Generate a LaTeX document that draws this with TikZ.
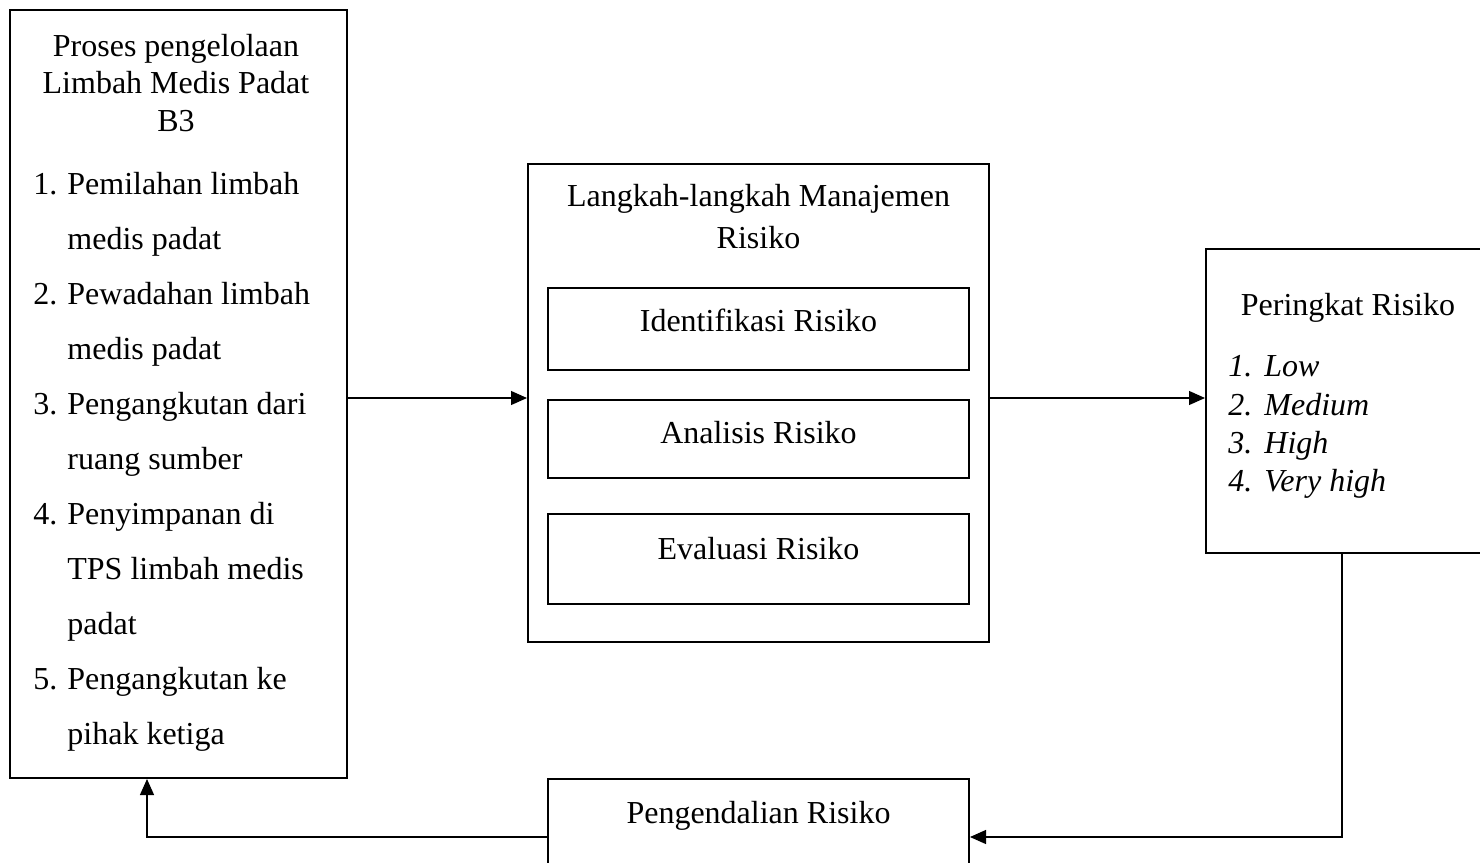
\documentclass[tikz,border=0pt]{standalone}
\usepackage{fontspec}
\setmainfont{Liberation Serif}
\usetikzlibrary{arrows.meta, calc, positioning}

\begin{document}
\begin{tikzpicture}[
    x=0.5pt, y=-0.5pt,
    block/.style={draw, line width=1pt, rectangle, inner sep=0pt},
    txt/.style={inner sep=0pt, font=\fontsize{16}{19}\selectfont, text height=13.5pt, text depth=2.5pt},
    arrow/.style={-{Triangle[length=8pt, width=7pt]}, line width=0.6pt}
]
% Frame
\useasboundingbox (0,0) rectangle (1480,863);
\clip (0,0) rectangle (1480,863);

% Waste management process
\node[block, minimum width=168.5pt, minimum height=384pt] (proses) at (178.5,394) {};
\foreach \yy/\ttl in {45/Proses pengelolaan, 82/Limbah Medis Padat, 120/B3}
  \node[txt] (judul-\yy) at (176,\yy) {\ttl};
\foreach \yy/\num/\ttl in {183/1./Pemilahan limbah, 238//medis padat, 293/2./Pewadahan limbah, 348//medis padat, 403/3./Pengangkutan dari, 458//ruang sumber, 513/4./Penyimpanan di, 568//TPS limbah medis, 623//padat, 678/5./Pengangkutan ke, 733//pihak ketiga} {
  \node[txt, anchor=west] (nomor-\yy) at (33,\yy) {\num};
  \node[txt, anchor=west] (isi-\yy) at (67,\yy) {\ttl};
}

% Risk management steps
\node[block, minimum width=230.5pt, minimum height=239pt] (langkah) at (758.5,403) {};
\node[txt] (langkah-a) at (758.5,195) {Langkah-langkah Manajemen};
\node[txt] (langkah-b) at (758.5,237) {Risiko};
\node[block, minimum width=210.5pt, minimum height=41pt] (identifikasi) at (758.5,329) {};
\node[txt] (identifikasi-t) at (758.5,320) {Identifikasi Risiko};
\node[block, minimum width=210.5pt, minimum height=39pt] (analisis) at (758.5,439) {};
\node[txt] (analisis-t) at (758.5,432) {Analisis Risiko};
\node[block, minimum width=210.5pt, minimum height=45pt] (evaluasi) at (758.5,559) {};
\node[txt] (evaluasi-t) at (758.5,548) {Evaluasi Risiko};

% Risk rating
\node[block, minimum width=150pt, minimum height=152pt] (peringkat) at (1356,401) {};
\node[txt] (peringkat-t) at (1348,304) {Peringkat Risiko};
\foreach \yy/\num/\ttl in {365/1./Low, 404/2./Medium, 442/3./High, 480/4./Very high} {
  \node[txt, anchor=west, font=\fontsize{16}{19}\selectfont\itshape] (tingkat-no-\yy) at (1228,\yy) {\num};
  \node[txt, anchor=west, font=\fontsize{16}{19}\selectfont\itshape] (tingkat-\yy) at (1264,\yy) {\ttl};
}

% Risk control
\node[block, minimum width=210.5pt, minimum height=60pt] (pengendalian) at (758.5,839) {};
\node[txt] (pengendalian-t) at (758.5,812) {Pengendalian Risiko};

% Arrows
\coordinate (alur) at (0,398);
\draw[arrow] (proses.east |- alur) -- (langkah.west |- alur);
\draw[arrow] (langkah.east |- alur) -- (peringkat.west |- alur);

% Feedback
\coordinate (belok-kanan) at (1342,837);
\coordinate (belok-kiri) at (147,837);
\draw[arrow] (peringkat.south -| belok-kanan) -- (belok-kanan) -- (pengendalian.east |- belok-kanan);
\draw[arrow] (pengendalian.west |- belok-kiri) -- (belok-kiri) -- (proses.south -| belok-kiri);

\end{tikzpicture}
\end{document}
